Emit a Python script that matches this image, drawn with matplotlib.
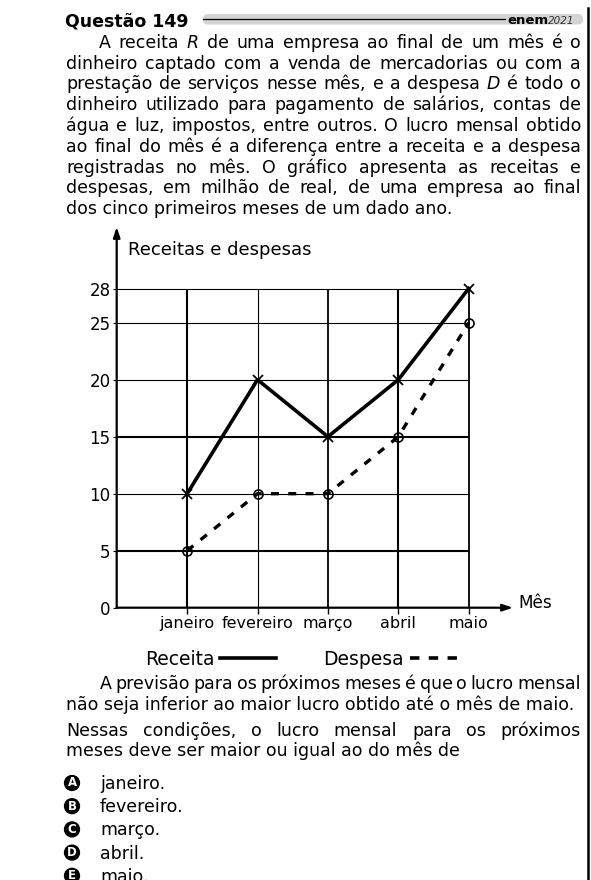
import matplotlib
matplotlib.use('Agg')
import matplotlib.pyplot as plt
from matplotlib.lines import Line2D
from matplotlib.patches import FancyBboxPatch

# dados do gráfico (milhão de real)
months = ['janeiro', 'fevereiro', 'março', 'abril', 'maio']
receita = [10, 20, 15, 20, 28]
despesa = [5, 10, 10, 15, 25]
y_ticks = [0, 5, 10, 15, 20, 25, 28]

# texto da questão (*x* = itálico)
intro_lines = [
    'A receita *R* de uma empresa ao final de um mês é o',
    'dinheiro captado com a venda de mercadorias ou com a',
    'prestação de serviços nesse mês, e a despesa *D* é todo o',
    'dinheiro utilizado para pagamento de salários, contas de',
    'água e luz, impostos, entre outros. O lucro mensal obtido',
    'ao final do mês é a diferença entre a receita e a despesa',
    'registradas no mês. O gráfico apresenta as receitas e',
    'despesas, em milhão de real, de uma empresa ao final',
    'dos cinco primeiros meses de um dado ano.',
]
question_lines = [
    'A previsão para os próximos meses é que o lucro mensal',
    'não seja inferior ao maior lucro obtido até o mês de maio.',
    'Nessas condições, o lucro mensal para os próximos',
    'meses deve ser maior ou igual ao do mês de',
]
letters = ['A', 'B', 'C', 'D', 'E']
options = ['janeiro.', 'fevereiro.', 'março.', 'abril.', 'maio.']

W, H = 591, 880
fig = plt.figure(figsize=(W / 100, H / 100), dpi=100)
bg = fig.add_axes([0, 0, 1, 1])
bg.set_xlim(0, W)
bg.set_ylim(H, 0)
bg.axis('off')
renderer = fig.canvas.get_renderer()

BODY = 12.5
LEFT, RIGHT = 66, 581


def put_line(text, x0, y, justify=True):
    if not justify:
        bg.text(x0, y, text, fontsize=BODY, va='baseline', ha='left')
        return
    objs = []
    for w in text.split(' '):
        style = 'normal'
        if w.startswith('*'):
            w = w.strip('*')
            style = 'italic'
        objs.append(bg.text(x0, y, w, fontsize=BODY, style=style, va='baseline'))
    widths = [t.get_window_extent(renderer).width for t in objs]
    room = RIGHT - x0 - sum(widths)
    if room < 2.5 * (len(objs) - 1):
        # linha larga demais: reduz a fonte
        k = (RIGHT - x0 - 3.0 * (len(objs) - 1)) / sum(widths)
        for t in objs:
            t.set_fontsize(BODY * k)
        widths = [t.get_window_extent(renderer).width for t in objs]
        room = RIGHT - x0 - sum(widths)
    gap = room / (len(objs) - 1)
    x = x0
    for t, w in zip(objs, widths):
        t.set_x(x)
        x += w + gap


# cabeçalho
bg.text(65, 26.5, 'Questão 149', fontsize=12.5, fontweight='bold', va='baseline')
bg.add_patch(FancyBboxPatch((203, 14), 380, 10.5, boxstyle='round,pad=0,rounding_size=5',
                            fc='#d3d3d3', ec='none'))
bg.plot([203, 505], [19.5, 19.5], color='black', lw=0.9)
t_enem = bg.text(507, 24, 'enem', fontsize=9.5, fontweight='bold', va='baseline')
bg.text(507 + t_enem.get_window_extent(renderer).width, 24, '2021', fontsize=7.5,
        style='italic', va='baseline', color='#333333')
bg.plot([588, 588], [8, H], color='black', lw=1.8)

# enunciado
for i, line in enumerate(intro_lines):
    x0 = 99 if i == 0 else LEFT
    put_line(line, x0, 47.8 + 20.8 * i, justify=(i < len(intro_lines) - 1))

put_line(question_lines[0], 100, 689)
put_line(question_lines[1], LEFT, 709.5, justify=False)
put_line(question_lines[2], LEFT, 736)
put_line(question_lines[3], LEFT, 756.5, justify=False)

for i, (let, opt) in enumerate(zip(letters, options)):
    cy = 783 + 23.2 * i
    bg.text(72, cy, let, fontsize=8.5, fontweight='bold', color='white', ha='center', va='center',
            bbox=dict(boxstyle='circle,pad=0.08', fc='black', ec='black'))
    bg.text(100, cy + 6, opt, fontsize=BODY, va='baseline')

# gráfico
x0_px, y0_px = 116.7, 607.7
ux, uy = 70.4, 11.4
ax = fig.add_axes([x0_px / W, (H - y0_px) / H, 6 * ux / W, 33 * uy / H])
ax.set_xlim(0, 6)
ax.set_ylim(0, 33)
ax.patch.set_alpha(0)
for s in ax.spines.values():
    s.set_visible(False)

x_pos = list(range(1, len(months) + 1))
ax.hlines(y_ticks[1:], 0, x_pos[-1], colors='black', linewidths=[1.5, 0.8, 1.5, 0.8, 0.8, 0.8], zorder=1)
ax.vlines(x_pos, 0, y_ticks[-1], colors='black', linewidths=[1.5, 0.8, 1.3, 1.5, 1.3], zorder=1)

arrow = dict(arrowstyle='-|>,head_length=0.6,head_width=0.2', color='black', lw=1.6,
             shrinkA=0, shrinkB=0)
ax.annotate('', xy=(0, 33.4), xytext=(0, 0), arrowprops=arrow, annotation_clip=False)
ax.annotate('', xy=(5.63, 0), xytext=(0, 0), arrowprops=arrow, annotation_clip=False)

ax.plot(x_pos, receita, color='black', lw=2.6, marker='x', ms=7, mew=1.3, clip_on=False, zorder=4)
ax.plot(x_pos, despesa, color='black', lw=2.4, ls=(0, (2.4, 2.8)), marker='o', ms=6.5,
        mfc='none', mew=1.2, clip_on=False, zorder=4)

ax.set_yticks(y_ticks)
ax.set_yticklabels([str(v) for v in y_ticks], fontsize=12)
ax.set_xticks(x_pos)
ax.set_xticklabels(months, fontsize=11.5)
ax.tick_params(axis='y', length=3, width=0.8, pad=1.5)
ax.tick_params(axis='x', length=4, width=1.0, pad=2)

ax.text(0.16, 30.94, 'Receitas e despesas', fontsize=13, va='baseline')
ax.text(5.70, 0, 'Mês', fontsize=12.2, va='baseline')

handles = [Line2D([], [], color='black', lw=2.6),
           Line2D([], [], color='black', lw=2.6, ls=(0, (2.6, 2.6)))]
fig.legend(handles, ['Receita', 'Despesa'], ncol=2, markerfirst=False, frameon=False,
           loc='center left', bbox_to_anchor=(145 / W, 1 - 659 / H), borderpad=0,
           borderaxespad=0, handlelength=3.0, handletextpad=0.3, columnspacing=2.5,
           fontsize=13.5)

fig.savefig('out.png', dpi=100)
